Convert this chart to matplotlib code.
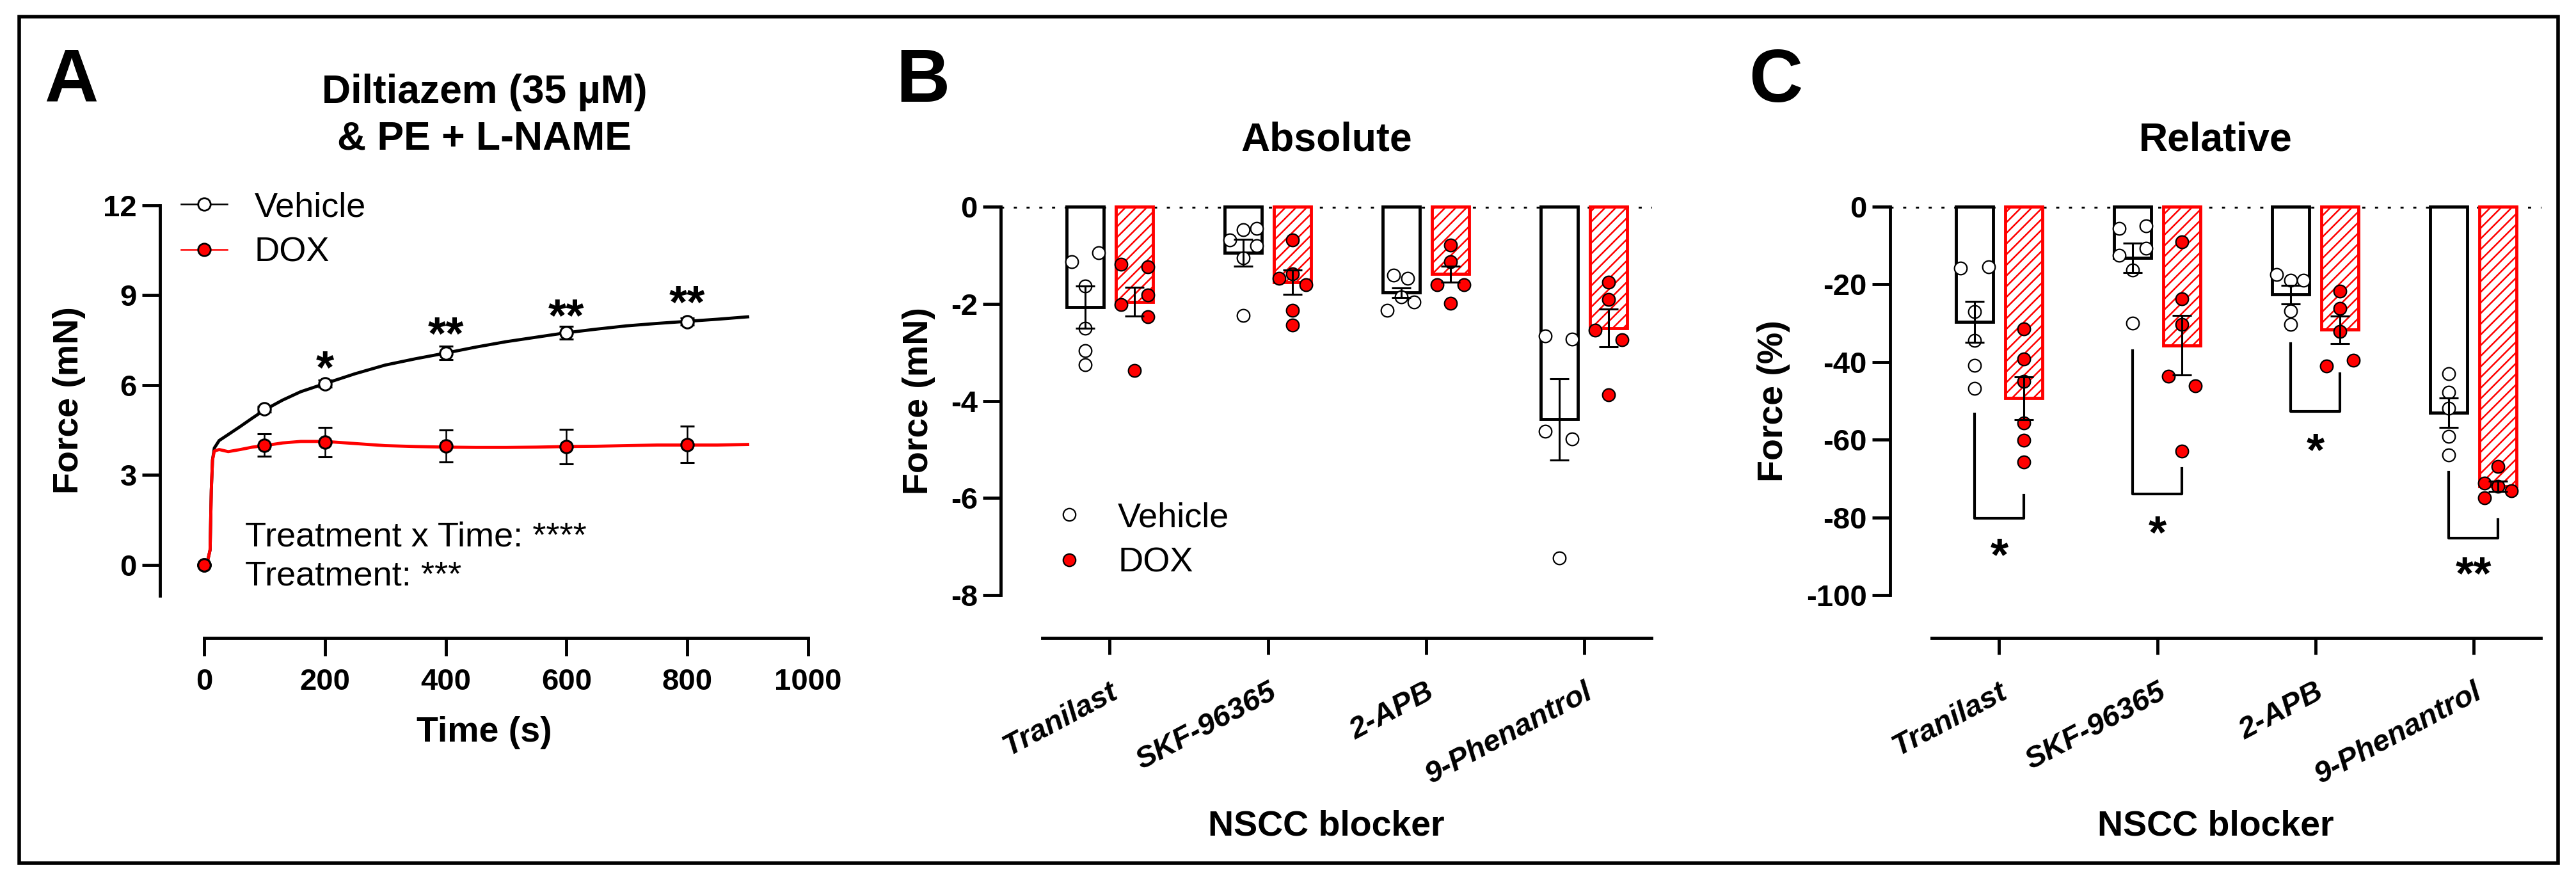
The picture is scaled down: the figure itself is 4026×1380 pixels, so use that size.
import matplotlib
matplotlib.use('Agg')
import matplotlib.pyplot as plt
import numpy as np
from matplotlib.lines import Line2D
from matplotlib.patches import Rectangle
from matplotlib.transforms import ScaledTranslation

plt.rcParams['font.family'] = ['Liberation Sans', 'DejaVu Sans']
plt.rcParams['font.weight'] = 'bold'
plt.rcParams['axes.labelweight'] = 'bold'
plt.rcParams['axes.unicode_minus'] = False
plt.rcParams['hatch.linewidth'] = 1.8

# ---- Panel A: force trace over time ----
time_curve = [0, 5, 10, 12, 14, 17, 25, 40, 60, 80, 100, 130, 160, 200, 250, 300, 350,
              400, 450, 500, 550, 600, 650, 700, 750, 800, 850, 900]
veh_curve = [0, 0.05, 0.5, 2.5, 3.5, 3.9, 4.15, 4.35, 4.62, 4.9, 5.17, 5.5, 5.78, 6.05, 6.38,
             6.67, 6.88, 7.07, 7.27, 7.45, 7.6, 7.75, 7.87, 7.98, 8.06, 8.13, 8.2, 8.28]
dox_curve = [0, 0.05, 0.5, 2.5, 3.5, 3.8, 3.85, 3.78, 3.85, 3.93, 3.98, 4.07, 4.12, 4.12, 4.05,
             3.98, 3.95, 3.93, 3.92, 3.92, 3.93, 3.95, 3.96, 3.98, 4.0, 4.0, 4.0, 4.02]
time_pts = [0, 100, 200, 400, 600, 800]
veh_pts = [0, 5.2, 6.05, 7.07, 7.75, 8.12]
veh_err = [0, 0.1, 0.12, 0.22, 0.22, 0.12]
dox_pts = [0, 4.0, 4.1, 3.97, 3.95, 4.02]
dox_err = [0, 0.38, 0.49, 0.54, 0.57, 0.6]
sig_time = [200, 400, 600, 800]
sig_y = [7.0, 8.14, 8.74, 9.18]
sig_text = ['*', '**', '**', '**']

# ---- Panels B / C: NSCC blockers ----
blockers = ['Tranilast', 'SKF-96365', '2-APB', '9-Phenantrol']

veh_abs_mean = [-2.07, -0.95, -1.77, -4.38]
veh_abs_sem = [0.44, 0.28, 0.1, 0.84]
dox_abs_mean = [-1.96, -1.56, -1.39, -2.50]
dox_abs_sem = [0.3, 0.25, 0.16, 0.39]
veh_abs_pts = [[-1.13, -0.95, -1.63, -2.51, -2.97, -3.26],
               [-0.68, -0.48, -0.45, -0.80, -1.05, -2.24],
               [-1.41, -1.48, -1.86, -2.14, -1.97],
               [-2.66, -2.73, -4.63, -4.78, -7.24]]
dox_abs_pts = [[-1.18, -1.24, -1.82, -2.02, -2.27, -3.37],
               [-0.69, -1.48, -1.38, -1.61, -2.14, -2.44],
               [-0.79, -1.13, -1.61, -1.61, -1.99],
               [-1.55, -1.91, -2.54, -2.74, -3.88]]
veh_abs_jit = [[-0.085, 0.085, 0, 0, 0, 0],
               [-0.085, 0, 0.085, 0.085, 0, 0],
               [-0.05, 0.04, 0, -0.09, 0.08],
               [-0.09, 0.08, -0.09, 0.08, 0]]
dox_abs_jit = [[-0.085, 0.085, 0.085, -0.085, 0.085, 0],
               [0, -0.085, 0, 0.085, 0, 0],
               [0, 0, -0.085, 0.085, 0],
               [0, 0, -0.085, 0.085, 0]]

veh_rel_mean = [-29.7, -13.2, -22.6, -53.1]
veh_rel_sem = [5.3, 3.8, 2.4, 3.8]
dox_rel_mean = [-49.3, -35.7, -31.7, -72.0]
dox_rel_sem = [5.5, 7.7, 3.6, 1.3]
veh_rel_pts = [[-15.8, -15.5, -27.0, -34.5, -40.8, -46.8],
               [-5.6, -4.9, -10.7, -12.6, -16.3, -30.0],
               [-17.4, -18.9, -19.0, -26.8, -30.3],
               [-43.0, -47.8, -51.9, -59.1, -63.9]]
dox_rel_pts = [[-31.5, -39.2, -44.9, -55.7, -60.2, -65.7],
               [-9.1, -23.7, -30.3, -43.6, -46.2, -62.9],
               [-21.8, -26.2, -32.2, -41.0, -39.5],
               [-66.9, -71.2, -72.0, -73.1, -75.0]]
veh_rel_jit = [[-0.09, 0.09, 0, 0, 0, 0],
               [-0.085, 0.085, 0.085, -0.085, 0, 0],
               [-0.09, 0, 0.08, 0, 0],
               [0, 0, 0, 0, 0]]
dox_rel_jit = [[0, 0, 0, 0, 0, 0],
               [0, 0, 0, -0.085, 0.085, 0],
               [0, 0, 0, -0.085, 0.085],
               [0, -0.085, 0, 0.085, -0.085]]

# significance brackets in C (vehicle leg top, DOX leg top, bracket bottom, star)
br_veh_top = [-53.4, -37.0, -35.3, -68.3]
br_dox_top = [-74.3, -67.3, -43.0, -80.6]
br_bottom = [-80.2, -74.0, -52.8, -85.3]
br_star_y = [-86.5, -80.6, -59.5, -91.3]
br_star = ['*', '*', '*', '**']

# ---- figure ----
W, H = 4026, 1380
fig = plt.figure(figsize=(W / 100, H / 100), dpi=100)


def px_rect(x0, y0, x1, y1):
    return [x0 / W, 1 - y1 / H, (x1 - x0) / W, (y1 - y0) / H]


FS_TICK, FS_LAB, FS_TITLE, FS_LEG, FS_STAR = 34, 40, 45, 39, 52
LW = 3.5


def style_axes(ax):
    ax.spines[['top', 'right']].set_visible(False)
    for s in ('left', 'bottom'):
        ax.spines[s].set_linewidth(LW)
    ax.tick_params(width=LW, length=20, labelsize=FS_TICK, pad=6)


def bold_ticks(ax):
    for lbl in ax.get_xticklabels() + ax.get_yticklabels():
        lbl.set_fontweight('bold')


def star(ax, text, x, y):
    ax.annotate(text, xy=(x, y), xytext=(0, -0.6 * FS_STAR), textcoords='offset points',
                ha='center', va='baseline', fontsize=FS_STAR, fontweight='bold',
                annotation_clip=False)


# Panel A
axA = fig.add_axes(px_rect(250, 321, 1263, 931))
style_axes(axA)
axA.plot(time_curve, veh_curve, color='black', lw=LW, zorder=2)
axA.plot(time_curve, dox_curve, color='red', lw=LW, zorder=2)
axA.errorbar(time_pts, veh_pts, yerr=veh_err, fmt='o', ms=14, mfc='white', mec='black', mew=2.2,
             ecolor='black', elinewidth=1.8, capsize=8, capthick=1.8, zorder=4)
axA.errorbar(time_pts, dox_pts, yerr=dox_err, fmt='o', ms=14, mfc='red', mec='black', mew=2.2,
             ecolor='black', elinewidth=1.8, capsize=8, capthick=1.8, zorder=5)
for t, y, s in zip(sig_time, sig_y, sig_text):
    star(axA, s, t, y)
axA.text(68, 0.62, 'Treatment x Time: ****', fontsize=FS_LEG, fontweight='normal')
axA.text(68, -0.68, 'Treatment: ***', fontsize=FS_LEG, fontweight='normal')
axA.set_xlim(-73, 1000)
axA.set_ylim(-1.03, 12)
axA.set_yticks([0, 3, 6, 9, 12])
axA.set_xticks([0, 200, 400, 600, 800, 1000])
axA.spines['bottom'].set_position(('outward', 47.5))
axA.spines['bottom'].set_bounds(0, 1000)
axA.tick_params(axis='x', pad=14)
bold_ticks(axA)
axA.set_xlabel('Time (s)', fontsize=FS_LAB, fontweight='bold', va='center')
axA.xaxis.set_label_coords(0.5, -0.351)
axA.set_ylabel('Force (mN)', fontsize=FS_LAB, fontweight='bold', va='center')
axA.yaxis.set_label_coords(-0.140, 0.5)
legA = [Line2D([], [], color='black', lw=1.8, marker='o', ms=14, mfc='white', mec='black', mew=2),
        Line2D([], [], color='red', lw=1.8, marker='o', ms=14, mfc='red', mec='black', mew=2)]
axA.legend(legA, ['Vehicle', 'DOX'], loc='upper left', bbox_to_anchor=(0.0326, 1.036),
           frameon=False, borderpad=0, borderaxespad=0, handlelength=1.33, handletextpad=0.78,
           labelspacing=0.38, prop={'size': FS_LEG, 'weight': 'normal'})
fig.text(757 / W, 1 - 161 / H, 'Diltiazem (35 µM)', ha='center', va='baseline',
         fontsize=FS_TITLE, fontweight='bold')
fig.text(757 / W, 1 - 233 / H, '& PE + L-NAME', ha='center', va='baseline',
         fontsize=FS_TITLE, fontweight='bold')

BW, OFF = 0.235, 0.155


def bar_panel(ax, vm, vs, vp, vj, dm, ds, dp, dj, ylim, yticks, ylabel, ylab_x, title):
    style_axes(ax)
    x = np.arange(len(blockers))
    ax.axhline(0, color='black', lw=3.5, ls=(0, (1, 3.1)), zorder=0)
    ax.bar(x - OFF, vm, width=BW, color='white', edgecolor='black', lw=LW, zorder=1, clip_on=False)
    ax.bar(x + OFF, dm, width=BW, color='white', edgecolor='red', hatch='//', lw=LW, zorder=1,
           clip_on=False)
    for i in range(len(blockers)):
        ax.scatter(x[i] - OFF + np.array(vj[i]), vp[i], s=200, c='white', edgecolors='black',
                   linewidths=1.6, zorder=3, clip_on=False)
        ax.scatter(x[i] + OFF + np.array(dj[i]), dp[i], s=200, c='red', edgecolors='black',
                   linewidths=1.6, zorder=3, clip_on=False)
    ax.errorbar(x - OFF, vm, yerr=vs, fmt='none', ecolor='black', elinewidth=2.2, capsize=11,
                capthick=2.2, zorder=4)
    ax.errorbar(x + OFF, dm, yerr=ds, fmt='none', ecolor='black', elinewidth=2.2, capsize=11,
                capthick=2.2, zorder=4)
    ax.set_xlim(-0.69, 3.43)
    ax.set_ylim(*ylim)
    ax.set_yticks(yticks)
    ax.spines['bottom'].set_position(('outward', 48))
    ax.spines['bottom'].set_bounds(-0.425, 3.425)
    ax.set_xticks(x)
    ax.set_xticklabels(blockers, rotation=28, ha='right', va='center', rotation_mode='anchor',
                       style='italic')
    ax.tick_params(axis='x', length=19, pad=40)
    shift = ScaledTranslation(0.10, 0, fig.dpi_scale_trans)
    for lbl in ax.get_xticklabels():
        lbl.set_transform(lbl.get_transform() + shift)
    bold_ticks(ax)
    ax.set_xlabel('NSCC blocker', fontsize=FS_LAB, fontweight='bold', va='center')
    ax.xaxis.set_label_coords(0.5, -0.596)
    ax.set_ylabel(ylabel, fontsize=FS_LAB, fontweight='bold', va='center')
    ax.yaxis.set_label_coords(ylab_x, 0.5)
    ax.set_title(title, fontsize=FS_TITLE, fontweight='bold', pad=63)
    return x


axB = fig.add_axes(px_rect(1564, 323, 2582, 930))
bar_panel(axB, veh_abs_mean, veh_abs_sem, veh_abs_pts, veh_abs_jit,
          dox_abs_mean, dox_abs_sem, dox_abs_pts, dox_abs_jit,
          (-8, 0), [0, -2, -4, -6, -8], 'Force (mN)', -0.1257, 'Absolute')
legB = [Line2D([], [], ls='none', marker='o', ms=14, mfc='white', mec='black', mew=1.6),
        Line2D([], [], ls='none', marker='o', ms=14, mfc='red', mec='black', mew=1.6)]
axB.legend(legB, ['Vehicle', 'DOX'], loc='upper left', bbox_to_anchor=(0.084, 0.24),
           frameon=False, borderpad=0, borderaxespad=0, handlelength=0.8, handletextpad=1.0,
           labelspacing=0.38, prop={'size': FS_LEG, 'weight': 'normal'})

axC = fig.add_axes(px_rect(2954, 323, 3972, 930))
xc = bar_panel(axC, veh_rel_mean, veh_rel_sem, veh_rel_pts, veh_rel_jit,
               dox_rel_mean, dox_rel_sem, dox_rel_pts, dox_rel_jit,
               (-100, 0), [0, -20, -40, -60, -80, -100], 'Force (%)', -0.1788, 'Relative')
for i in range(len(blockers)):
    xv, xd = xc[i] - OFF, xc[i] + OFF
    axC.plot([xv, xv, xd, xd], [br_veh_top[i], br_bottom[i], br_bottom[i], br_dox_top[i]],
             color='black', lw=3, clip_on=False, zorder=2)
    star(axC, br_star[i], (xv + xd) / 2, br_star_y[i])

# panel letters and outer frame
for letter, xpx in (('A', 69), ('B', 1400), ('C', 2733)):
    fig.text(xpx / W, 1 - 159 / H, letter, fontsize=84, fontweight='bold', va='baseline')
fig.add_artist(Rectangle((30 / W, 1 - 1349 / H), (3998 - 30) / W, (1349 - 26) / H,
                         transform=fig.transFigure, fill=False, lw=4, ec='black'))

fig.savefig('out.png', dpi=100)
